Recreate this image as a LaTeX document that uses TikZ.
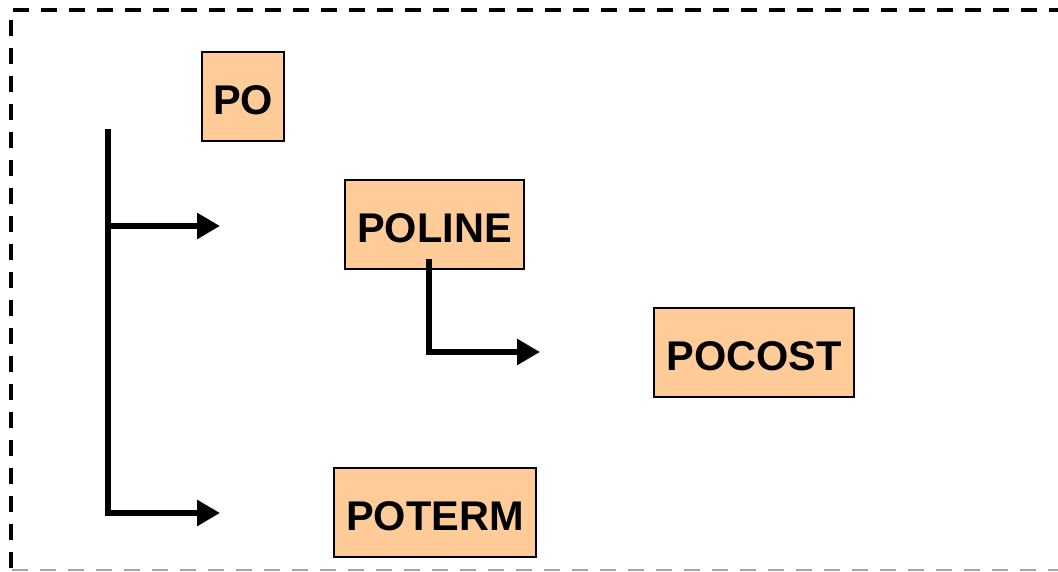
\documentclass[tikz,border=0pt]{standalone}
\usepackage{fontspec}
\setmainfont{Liberation Sans}
\usetikzlibrary{arrows.meta}
\definecolor{boxfill}{RGB}{255,204,153}
\tikzset{
  entity/.style={draw=black, line width=1.3pt, fill=boxfill, minimum height=89pt,
    inner sep=0pt, text height=35.3pt, text depth=0pt,
    font=\fontsize{41.5}{48}\selectfont\bfseries},
  link/.style={line width=6.5pt, -{Triangle[length=23pt,width=25pt]}},
  frameline/.style={line width=3.5pt, dash pattern=on 16pt off 12pt},
  framebottom/.style={line width=1.5pt, gray!70, dash pattern=on 16pt off 12pt}
}
\begin{document}
\begin{tikzpicture}[x=1pt,y=-1pt]
\useasboundingbox (0,0) rectangle (1058,571);
% frame
\draw[frameline] (13,10) -- (1064,10);
\draw[frameline] (11,20) -- (11,568);
\draw[framebottom] (12,570) -- (1064,570);
% boxes
\node[entity, minimum width=82pt] (po) at (243,96.5) {PO};
\node[entity, minimum width=179pt] (poline) at (434.5,224.5) {POLINE};
\node[entity, minimum width=200pt] (pocost) at (754,352.5) {POCOST};
\node[entity, minimum width=202pt] (poterm) at (435,512.5) {POTERM};
% connector end points
\coordinate (trunktop) at (108,129);
\coordinate (branch) at (108,226);
\coordinate (tipline) at (220,226);
\coordinate (trunkbot) at (108,513);
\coordinate (tipterm) at (220,513);
\coordinate (linestart) at (429,259);
\coordinate (linecorner) at (429,352);
\coordinate (tipcost) at (540,352);
% connectors
\draw[link] (trunktop) -- (trunkbot) -- (tipterm);
\draw[link] (branch) -- (tipline);
\draw[link] (linestart) -- (linecorner) -- (tipcost);
\end{tikzpicture}
\end{document}
